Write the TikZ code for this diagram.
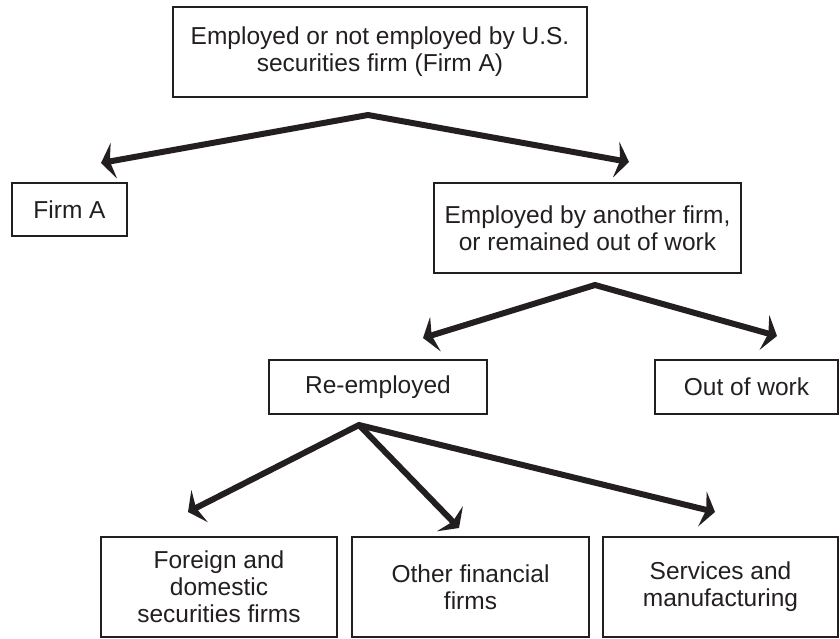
\documentclass[tikz,border=0pt]{standalone}
\usepackage{fontspec}
\setmainfont{Liberation Sans}
\usetikzlibrary{arrows.meta}
\definecolor{ink}{HTML}{231F20}
\tikzset{
  box/.style={draw=ink, line width=2.5pt, rectangle, inner sep=0pt, align=center,
    text=ink, font=\fontsize{24.5}{27}\selectfont},
  tipshape/.tip={Stealth[length=13pt, width=36pt, inset=4pt]},
  conn/.style={draw=ink, line width=6pt, miter limit=20, line join=miter},
  twoway/.style={conn, tipshape-tipshape},
  oneway/.style={conn, -tipshape}
}
\begin{document}
\begin{tikzpicture}[x=1pt, y=-1pt]
\useasboundingbox (0,0) rectangle (840,639);
% boxes
\node[box, minimum width=414pt, minimum height=90pt] (top) at (380,52)
  {Employed or not employed by U.S.\\securities firm (Firm A)};
\node[box, minimum width=115pt, minimum height=53pt] (firma) at (69.5,209.5) {Firm A};
\node[box, minimum width=307pt, minimum height=90pt] (emp) at (587.5,228)
  {Employed by another firm,\\or remained out of work};
\node[box, minimum width=218pt, minimum height=54pt] (reemp) at (378,387) {Re-employed};
\node[box, minimum width=183pt, minimum height=54pt] (out) at (746.5,387) {Out of work};
\node[box, minimum width=236pt, minimum height=100pt] (foreign) at (219,587)
  {Foreign and\\domestic\\securities firms};
\node[box, minimum width=237pt, minimum height=100pt] (other) at (470.5,587)
  {Other financial\\firms};
\node[box, minimum width=235pt, minimum height=100pt] (serv) at (720.5,587)
  {Services and\\manufacturing};
% connector points
\coordinate (a1) at (368,115);
\coordinate (t1) at (101,163);
\coordinate (t2) at (629,162);
\coordinate (a2) at (595,285);
\coordinate (t3) at (423,338);
\coordinate (t4) at (777,336);
\coordinate (a3) at (359,425);
\coordinate (t5) at (188,512);
\coordinate (t6) at (459,528);
\coordinate (t7) at (715,512);
% connectors
\draw[twoway] (t1) -- (a1) -- (t2);
\draw[twoway] (t3) -- (a2) -- (t4);
\draw[twoway] (t5) -- (a3) -- (t7);
\draw[oneway] (a3) -- (t6);
\end{tikzpicture}
\end{document}
